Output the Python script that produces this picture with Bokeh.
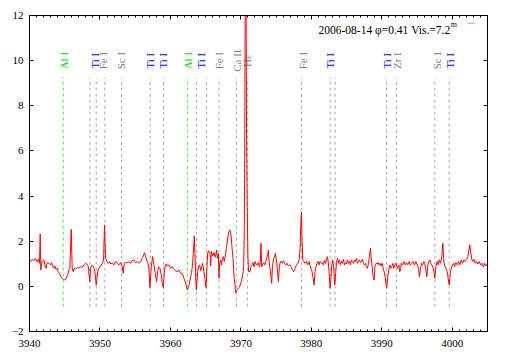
import numpy as np
from bokeh.plotting import figure
from bokeh.models import FixedTicker, LinearAxis, Range1d
from bokeh.embed import file_html
from bokeh.resources import INLINE
from bokeh.core.properties import value

# ---- spectrum (wavelength [A], relative flux) ----
seg_a = [(3940.00, 1.17), (3940.14, 1.10), (3940.38, 1.20), (3940.62, 1.14), (3940.85, 1.24),
         (3941.09, 1.10), (3941.23, 1.20), (3941.42, 1.02), (3941.52, 2.32), (3941.61, 0.72),
         (3941.70, 0.95), (3941.80, 1.10), (3942.04, 1.17), (3942.18, 0.95), (3942.37, 0.80),
         (3942.51, 1.05), (3942.75, 1.02), (3942.98, 0.95), (3943.13, 1.05), (3943.31, 0.87),
         (3943.46, 0.80), (3943.60, 0.90), (3943.79, 0.75), (3943.93, 0.80), (3944.07, 0.65),
         (3944.26, 0.58), (3944.45, 0.43), (3944.64, 0.35), (3944.83, 0.31), (3945.02, 0.28),
         (3945.21, 0.35), (3945.40, 0.50), (3945.59, 0.72), (3945.73, 0.80), (3945.92, 2.53),
         (3946.06, 0.80), (3946.20, 0.65), (3946.34, 0.80), (3946.53, 0.75), (3946.77, 0.84),
         (3947.01, 0.80), (3947.24, 0.87), (3947.48, 0.84), (3947.72, 0.95), (3947.95, 1.02),
         (3948.14, 0.99), (3948.33, 0.90), (3948.48, 0.43), (3948.57, 0.21), (3948.66, 0.80),
         (3948.90, 0.95), (3949.09, 0.87), (3949.28, 0.65), (3949.47, 0.06), (3949.56, 0.35),
         (3949.75, 0.75), (3949.94, 0.87), (3950.13, 0.90), (3950.32, 1.02), (3950.51, 1.17),
         (3950.65, 2.72), (3950.80, 1.24), (3950.98, 1.10), (3951.17, 1.02), (3951.36, 1.10),
         (3951.55, 0.99), (3951.74, 1.05), (3951.98, 0.95), (3952.22, 1.10), (3952.45, 1.02),
         (3952.69, 0.95), (3952.93, 1.05), (3953.16, 0.87), (3953.30, 0.58), (3953.45, 1.02),
         (3953.64, 1.05)]

seg_b = [(3953.87, 1.05), (3954.11, 1.10), (3954.35, 1.02), (3954.58, 1.14), (3954.82, 1.17),
         (3955.06, 1.05), (3955.29, 1.10), (3955.53, 1.02), (3955.77, 1.10), (3956.00, 1.24),
         (3956.24, 1.43), (3956.34, 1.49), (3956.48, 1.32), (3956.62, 1.17), (3956.81, 1.02),
         (3956.95, 0.80), (3957.09, -0.05), (3957.19, 0.43), (3957.28, 0.87), (3957.47, 1.32),
         (3957.66, 0.95), (3957.85, 0.58), (3958.04, 0.21), (3958.18, 0.65), (3958.32, 0.87),
         (3958.51, 0.80), (3958.70, 0.50), (3958.84, 0.13), (3958.99, -0.05), (3959.13, 0.58),
         (3959.27, 0.95), (3959.41, 0.99), (3959.55, 0.90), (3959.79, 0.95), (3960.03, 0.80),
         (3960.27, 0.87), (3960.50, 0.75), (3960.74, 0.69), (3960.97, 0.65), (3961.21, 0.72),
         (3961.45, 0.58), (3961.69, 0.55), (3961.92, 0.35), (3962.16, 0.16), (3962.30, -0.02),
         (3962.40, -0.16), (3962.54, -0.05), (3962.68, 0.10), (3962.87, 0.43), (3963.01, 0.61),
         (3963.15, 1.02), (3963.25, 1.47), (3963.39, 2.24), (3963.48, 1.47), (3963.58, 0.43),
         (3963.67, -0.16), (3963.77, 0.21), (3963.86, 0.65), (3964.01, 0.90), (3964.15, 0.95),
         (3964.29, 0.69), (3964.43, 0.84), (3964.57, 1.02), (3964.76, 0.65), (3964.90, 0.35),
         (3965.05, -0.05), (3965.14, 0.58), (3965.28, 1.47), (3965.43, 1.58), (3965.62, 1.43),
         (3965.71, 0.90), (3965.81, 1.54), (3966.00, 1.35), (3966.18, 1.49), (3966.37, 1.29),
         (3966.56, 1.61), (3966.66, 1.24), (3966.80, 1.46), (3966.89, 0.36), (3966.99, 1.02)]

seg_c = [(3967.13, 1.17), (3967.27, 0.95), (3967.37, 1.24), (3967.51, 1.32), (3967.65, 1.10),
         (3967.84, 1.47), (3967.98, 1.76), (3968.12, 2.13), (3968.31, 2.43), (3968.46, 2.50),
         (3968.60, 2.28), (3968.69, 1.91), (3968.88, 1.24), (3969.02, 0.50), (3969.17, 0.06),
         (3969.26, -0.28), (3969.40, -0.19), (3969.55, -0.13), (3969.73, -0.05), (3969.92, 0.06),
         (3970.11, 0.28), (3970.30, 0.58), (3970.40, 0.95), (3970.48, 2.50), (3970.56, 7.00),
         (3970.67, 20.0), (3970.80, 7.00), (3970.90, 3.50), (3971.00, 1.30), (3971.10, 0.65),
         (3971.30, 0.65), (3971.44, 0.87), (3971.58, 0.95), (3971.72, 1.05), (3971.86, 0.87),
         (3972.01, 1.10), (3972.15, 0.99), (3972.29, 0.95), (3972.48, 1.05), (3972.62, 0.87),
         (3972.76, 1.10), (3972.86, 1.91), (3972.95, 0.87), (3973.10, 0.99), (3973.24, 1.05),
         (3973.38, 0.95), (3973.52, 1.10), (3973.66, 1.24), (3973.81, 1.39), (3973.90, 1.61),
         (3974.00, 1.10), (3974.14, 0.80), (3974.28, 0.43), (3974.37, 0.13), (3974.47, 0.80),
         (3974.61, 1.17), (3974.75, 1.29), (3974.90, 1.47), (3975.04, 1.17), (3975.18, 0.73),
         (3975.32, 0.21), (3975.46, 0.87), (3975.61, 1.10), (3975.75, 1.10), (3975.89, 1.02),
         (3976.03, 1.13), (3976.17, 1.05), (3976.36, 0.95), (3976.55, 1.02), (3976.74, 0.90),
         (3976.93, 0.96), (3977.12, 0.87), (3977.31, 0.73), (3977.50, 0.65), (3977.69, 0.80),
         (3977.88, 0.95), (3978.07, 1.02), (3978.26, 1.17), (3978.40, 1.61), (3978.49, 2.65),
         (3978.59, 3.30), (3978.68, 2.06), (3978.78, 1.17), (3978.92, 1.10), (3979.11, 1.02),
         (3979.30, 1.10), (3979.49, 0.95), (3979.68, 1.10), (3979.87, 0.87), (3980.06, 0.70),
         (3980.25, 0.40), (3980.39, 0.06), (3980.53, 0.65)]

seg_d = [(3980.62, 0.80), (3980.77, 1.02), (3980.96, 1.10), (3981.10, 0.95), (3981.24, 1.10),
         (3981.43, 1.02), (3981.57, 1.05), (3981.71, 0.95), (3981.86, 1.17), (3982.00, 1.02),
         (3982.14, 1.14), (3982.28, 1.32), (3982.42, 1.02), (3982.57, 0.43), (3982.66, -0.09),
         (3982.76, 0.28), (3982.90, 0.95), (3983.04, 1.17), (3983.18, 0.80), (3983.32, 0.06),
         (3983.42, 0.43), (3983.56, 1.02), (3983.70, 1.24), (3983.85, 1.02), (3983.99, 1.17),
         (3984.13, 0.95), (3984.27, 1.10), (3984.41, 1.02), (3984.56, 1.20), (3984.70, 0.95),
         (3984.84, 1.05), (3984.98, 0.99), (3985.12, 1.17), (3985.27, 1.02), (3985.41, 1.10),
         (3985.55, 0.95), (3985.69, 1.17), (3985.83, 1.10), (3985.98, 1.02), (3986.12, 1.17),
         (3986.26, 1.10), (3986.40, 1.24), (3986.54, 1.02), (3986.69, 1.10), (3986.83, 1.17),
         (3986.97, 1.05), (3987.11, 1.10), (3987.25, 1.20), (3987.40, 1.02), (3987.54, 0.95),
         (3987.68, 1.02), (3987.82, 0.87), (3987.96, 0.80), (3988.11, 1.02), (3988.25, 1.32),
         (3988.39, 1.69), (3988.48, 1.32), (3988.63, 0.87), (3988.77, 0.43), (3988.91, 0.28),
         (3989.05, 0.95), (3989.20, 1.02), (3989.34, 0.99), (3989.48, 1.05), (3989.62, 0.95),
         (3989.76, 1.02), (3989.91, 0.90), (3990.05, 1.02), (3990.19, 0.80), (3990.33, 0.65),
         (3990.47, 0.43), (3990.62, 0.06), (3990.71, -0.06), (3990.85, 0.43), (3990.99, 0.72),
         (3991.14, 0.95), (3991.28, 0.80), (3991.42, 0.87), (3991.56, 1.02), (3991.70, 0.80),
         (3991.85, 0.95), (3991.99, 1.02), (3992.13, 0.87), (3992.27, 0.80), (3992.41, 0.95),
         (3992.56, 0.65), (3992.70, 0.80)]

seg_e = [(3992.75, 1.02), (3992.94, 0.95), (3993.13, 1.10), (3993.32, 0.95), (3993.51, 1.05),
         (3993.69, 0.95), (3993.88, 1.10), (3994.07, 0.95), (3994.26, 1.02), (3994.45, 1.10),
         (3994.64, 0.95), (3994.83, 1.10), (3995.02, 0.95), (3995.21, 0.80), (3995.35, 0.43),
         (3995.49, 0.80), (3995.64, 1.02), (3995.78, 0.95), (3995.97, 1.10), (3996.11, 1.02),
         (3996.25, 0.72), (3996.39, 0.43), (3996.54, 0.95), (3996.68, 1.10), (3996.82, 1.17),
         (3996.96, 1.02), (3997.10, 0.95), (3997.29, 0.80), (3997.44, 0.58), (3997.53, 0.35),
         (3997.67, 0.87), (3997.86, 1.10), (3998.00, 0.95), (3998.15, 1.17), (3998.33, 1.02),
         (3998.52, 1.32), (3998.67, 1.91), (3998.76, 1.24), (3998.90, 0.95), (3999.09, 0.80),
         (3999.28, 0.65), (3999.42, 0.35), (3999.57, 0.06), (3999.71, 0.58), (3999.85, 0.80),
         (4000.04, 0.95), (4000.18, 1.02), (4000.32, 0.87), (4000.51, 1.05), (4000.70, 0.95),
         (4000.89, 1.10), (4001.08, 0.95), (4001.27, 1.17), (4001.46, 1.02), (4001.65, 1.17),
         (4001.84, 1.10), (4002.03, 1.20), (4002.22, 1.32), (4002.36, 1.61), (4002.50, 1.84),
         (4002.64, 1.47), (4002.79, 1.17), (4002.93, 1.10), (4003.07, 1.20), (4003.26, 1.02),
         (4003.45, 1.10), (4003.64, 0.99), (4003.83, 1.10), (4004.02, 0.95), (4004.21, 1.02),
         (4004.40, 0.87), (4004.59, 1.02), (4004.78, 0.90), (4004.97, 0.99)]

spectrum = seg_a + seg_b + seg_c + seg_d + seg_e
wavelength = [w for w, f in spectrum]
flux = [f for w, f in spectrum]

# ---- identified lines ----
line_wl = [3944.79, 3948.57, 3949.47, 3950.70, 3953.07, 3957.14, 3959.03, 3962.40,
           3963.72, 3965.14, 3966.89, 3969.36, 3970.92, 3978.59, 3982.66, 3983.37,
           3990.67, 3992.09, 3997.53, 3999.56]
line_elem = ["Al", "Ti", "Ti", "Fe", "Sc", "Ti", "Ti", "Al", "Ti", "Ti", "Fe", "Ca", "H",
             "Fe", "Ti", "Ti", "Ti", "Zr", "Sc", "Ti"]

label_wl = [3944.85, 3949.35, 3950.40, 3952.95, 3957.10, 3959.00, 3962.55, 3964.30,
            3966.85, 3969.45, 3970.90, 3978.80, 3982.65, 3990.75, 3992.10, 3997.80, 3999.70]
label_text = ["Al I", "Ti I", "Fe I", "Sc I", "Ti I", "Ti I", "Al I", "Ti I",
              "Fe I", "Ca II", "H\u03b5", "Fe I", "Ti I", "Ti I", "Zr I", "Sc I", "Ti I"]

legend_text = "2006-08-14 \u03c6=0.41 Vis.=7.2"
legend_sup = "m"

x_major = list(range(3940, 4001, 10))
x_minor = list(range(3940, 4006, 1))
y_major = list(range(-2, 13, 2))

text_colors = {"Al I": "#00dd00", "Ti I": "#0000ff"}
line_colors = [("#33ff33" if e == "Al" else "#aaaaaa") for e in line_elem]
label_colors = [text_colors.get(t, "#808080") for t in label_text]

FONT = "Liberation Serif"

p = figure(frame_width=458, frame_height=316, x_range=Range1d(3940, 4005), y_range=Range1d(-2, 12),
           output_backend="svg", toolbar_location=None,
           min_border_left=29, min_border_right=14, min_border_top=15, min_border_bottom=20)
p.xgrid.visible = False
p.ygrid.visible = False
p.outline_line_color = "black"
p.outline_line_width = 1
p.background_fill_color = "white"
p.border_fill_color = "white"

xt = FixedTicker(ticks=x_major, minor_ticks=x_minor)
yt = FixedTicker(ticks=y_major, minor_ticks=[])


def style_axis(ax, show_labels, minor):
    ax.axis_line_color = "black"
    ax.major_tick_in = 4
    ax.major_tick_out = 0
    ax.major_tick_line_color = "black"
    if minor:
        ax.minor_tick_in = 2
        ax.minor_tick_out = 0
        ax.minor_tick_line_color = "black"
    else:
        ax.minor_tick_line_color = None
    ax.major_label_text_font = FONT
    if show_labels:
        ax.major_label_text_font_size = "11px"
        ax.major_label_text_color = "black"
    else:
        ax.major_label_text_font_size = "1px"
        ax.major_label_text_color = None
        ax.major_label_standoff = 0


p.xaxis.ticker = xt
p.yaxis.ticker = yt
style_axis(p.xaxis[0], True, True)
style_axis(p.yaxis[0], True, False)
p.xaxis.major_label_standoff = 8
p.yaxis.major_label_standoff = 6

top = LinearAxis(ticker=xt)
style_axis(top, False, True)
p.add_layout(top, "above")
right = LinearAxis(ticker=yt)
style_axis(right, False, False)
p.add_layout(right, "right")

# dashed line markers
LINE_Y0, LINE_Y1 = -0.9, 9.25
p.segment(x0=line_wl, y0=[LINE_Y0] * len(line_wl), x1=line_wl, y1=[LINE_Y1] * len(line_wl),
          line_color=line_colors, line_dash="3 3", line_width=1)

# labels
LABEL_Y = 10
p.text(x=label_wl, y=[LABEL_Y] * len(label_wl), text=label_text, angle=np.pi / 2,
       text_align="center", text_baseline="alphabetic", text_color=label_colors,
       text_font=value(FONT), text_font_size=value("11px"))

# spectrum
p.line(wavelength, flux, line_color="#ff0000", line_width=1)

# key
p.text(x=[3999.7], y=[11.37], text=[legend_text], text_align="right", text_baseline="alphabetic",
       text_color="black", text_font=value(FONT), text_font_size=value("11.5px"))
p.text(x=[3999.8], y=[11.62], text=[legend_sup], text_align="left", text_baseline="alphabetic",
       text_color="black", text_font=value(FONT), text_font_size=value("8px"))
p.segment(x0=[4002.2], y0=[11.66], x1=[4003.2], y1=[11.66], line_color="#ff8080", line_width=1)

open("out.html", "w").write(file_html(p, INLINE))
